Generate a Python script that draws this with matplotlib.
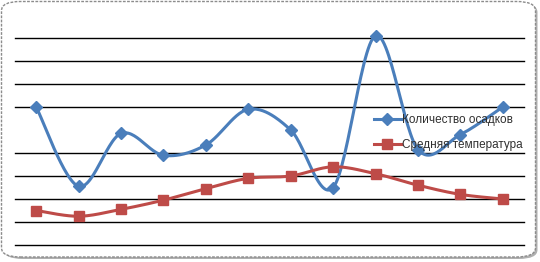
import numpy as np
import matplotlib.pyplot as plt
from matplotlib.patches import FancyBboxPatch

# Данные (12 месяцев)
mesyacy = list(range(1, 13))
osadki = [6.0, 2.55, 4.85, 3.9, 4.35, 5.9, 5.0, 2.5, 9.1, 4.15, 4.8, 6.0]
temperatura = [1.5, 1.25, 1.55, 1.95, 2.45, 2.9, 3.0, 3.4, 3.1, 2.6, 2.2, 2.0]
podpisi = ['Количество осадков', 'Средняя температура']
urovni = [0, 1, 2, 3, 4, 6, 7, 8, 9]


def sglazhivanie(x, y, n=30):
    # сглаживание как в Excel (Catmull-Rom через кривые Безье)
    x = np.asarray(x, float)
    y = np.asarray(y, float)
    px = np.concatenate([[x[0]], x, [x[-1]]])
    py = np.concatenate([[y[0]], y, [y[-1]]])
    xs, ys = [], []
    for i in range(1, len(px) - 2):
        p0 = np.array([px[i - 1], py[i - 1]])
        p1 = np.array([px[i], py[i]])
        p2 = np.array([px[i + 1], py[i + 1]])
        p3 = np.array([px[i + 2], py[i + 2]])
        c1 = p1 + (p2 - p0) / 6
        c2 = p2 - (p3 - p1) / 6
        t = np.linspace(0, 1, n)[:, None]
        b = ((1 - t) ** 3) * p1 + 3 * ((1 - t) ** 2) * t * c1 + 3 * (1 - t) * t ** 2 * c2 + t ** 3 * p2
        xs.extend(b[:, 0])
        ys.extend(b[:, 1])
    return np.array(xs), np.array(ys)


plt.rcParams['font.family'] = ['Liberation Sans', 'DejaVu Sans']
W, H = 540, 262
fig = plt.figure(figsize=(W / 100, H / 100), dpi=100)

# рамка с тенью
ten = FancyBboxPatch((4 / W, 3 / H), 533.5 / W, 256 / H,
                     boxstyle='round,pad=0,rounding_size=0.035',
                     transform=fig.transFigure, facecolor='#b0b0b0', edgecolor='none', zorder=-10)
ramka = FancyBboxPatch((1.5 / W, 5 / H), 534 / W, 255.5 / H,
                       boxstyle='round,pad=0,rounding_size=0.035',
                       transform=fig.transFigure, facecolor='white', edgecolor='#8c8c8c',
                       linewidth=1, linestyle=(0, (2, 1)), zorder=-9)
fig.add_artist(ten)
fig.add_artist(ramka)

ax = fig.add_axes([15 / W, (H - 245) / H, 509 / W, 207 / H])
ax.set_zorder(5)
ax.set_facecolor('none')
ax.set_xlim(0.5, 12.5)
ax.set_ylim(0, 9)
for u in urovni:
    ax.axhline(u, color='black', linewidth=1, zorder=1, clip_on=False)
for s in ax.spines.values():
    s.set_visible(False)
ax.set_xticks([])
ax.set_yticks([])

sx, sy = sglazhivanie(mesyacy, osadki)
ax.plot(sx, sy, color='#4a7ebb', linewidth=2.2, zorder=3, clip_on=False)
ax.plot(mesyacy, osadki, linestyle='none', marker='D', markersize=6.5,
        color='#4a7ebb', zorder=4, clip_on=False)
tx, ty = sglazhivanie(mesyacy, temperatura)
ax.plot(tx, ty, color='#be4b48', linewidth=2.2, zorder=3, clip_on=False)
ax.plot(mesyacy, temperatura, linestyle='none', marker='s', markersize=7.5,
        color='#be4b48', zorder=4, clip_on=False)

# легенда
h1, = ax.plot([], [], color='#4a7ebb', linewidth=2.2, marker='D', markersize=6.5)
h2, = ax.plot([], [], color='#be4b48', linewidth=2.2, marker='s', markersize=7.5)
leg = ax.legend([h1, h2], podpisi, loc='upper left', bbox_to_anchor=(368 / W, 1 - 108 / H),
                bbox_transform=fig.transFigure, frameon=False, fontsize=8.5,
                handlelength=2.3, handletextpad=0.1, labelspacing=1.1, borderpad=0)
for t in leg.get_texts():
    t.set_color('#303030')

fig.savefig('out.png', dpi=100)
